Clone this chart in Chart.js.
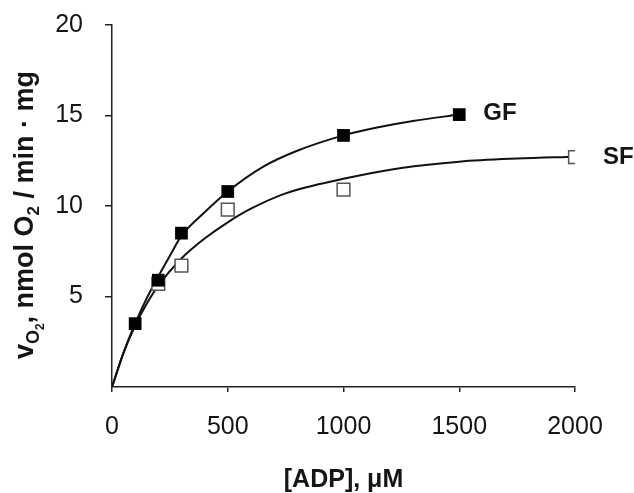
<!DOCTYPE html>
<html><head><meta charset="utf-8">
<style>html,body{margin:0;padding:0;background:#fff}#wrap{width:634px;height:493px;position:relative}</style>
<script src="https://cdn.jsdelivr.net/npm/chart.js@4.4.1/dist/chart.umd.min.js"></script>
</head><body><div id="wrap"><canvas id="c" width="634" height="493"></canvas></div>
<script>
// measured points
const gfX = [100, 200, 300, 500, 1000, 1500];
const gfY = [3.5, 5.9, 8.5, 10.8, 13.9, 15.05];
const sfX = [200, 300, 500, 1000, 2000];
const sfY = [5.7, 6.7, 9.8, 10.9, 12.7];
// fitted curves
const gfCurveX = [0, 50, 100, 150, 200, 250, 300, 400, 500, 650, 800, 1000, 1150, 1300, 1500];
const gfCurveY = [0, 1.9, 3.5, 4.9, 6.1, 7.25, 8.35, 9.65, 10.8, 12.15, 13.05, 13.9, 14.35, 14.7, 15.05];
const sfCurveX = [0, 50, 100, 150, 200, 300, 400, 500, 600, 750, 1000, 1250, 1500, 1750, 2000];
const sfCurveY = [0, 1.9, 3.4, 4.6, 5.6, 7.1, 8.2, 9.1, 9.85, 10.7, 11.5, 12.1, 12.45, 12.62, 12.72];
const xTicks = [0, 500, 1000, 1500, 2000];
const yTicks = [5, 10, 15, 20];
const seriesNames = ['GF', 'SF'];

const F = '"Liberation Sans", Arial, Helvetica, sans-serif';
const INK = '#151515';
const pts = (xs, ys) => xs.map((x, i) => ({x: x, y: ys[i]}));

const yTitlePlugin = {
  id: 'ytitle',
  afterDraw(chart) {
    const ctx = chart.ctx;
    ctx.save();
    const parts = [
      {t: 'v', s: 27, d: 0}, {t: 'O', s: 18, d: 6}, {t: '2', s: 12, d: 11},
      {t: ', nmol O', s: 27, d: 0}, {t: '2', s: 17, d: 6}, {t: ' / min \u00b7 mg', s: 27, d: 0}
    ];
    let total = 0;
    parts.forEach(p => { ctx.font = 'bold ' + p.s + 'px ' + F; p.w = ctx.measureText(p.t).width; total += p.w; });
    ctx.translate(33, 215);
    ctx.rotate(-Math.PI / 2);
    ctx.fillStyle = INK;
    ctx.textBaseline = 'alphabetic';
    ctx.textAlign = 'left';
    let x = -total / 2;
    parts.forEach(p => { ctx.font = 'bold ' + p.s + 'px ' + F; ctx.fillText(p.t, x, p.d); x += p.w; });
    ctx.restore();
  }
};

const seriesLabelPlugin = {
  id: 'serieslabels',
  afterDraw(chart) {
    const ctx = chart.ctx, xs = chart.scales.x, ys = chart.scales.y;
    ctx.save();
    ctx.font = 'bold 24px ' + F;
    ctx.fillStyle = INK;
    ctx.textAlign = 'left';
    ctx.textBaseline = 'middle';
    const gi = gfX.length - 1, si = sfX.length - 1;
    ctx.fillText(seriesNames[0], xs.getPixelForValue(gfX[gi]) + 24, ys.getPixelForValue(gfY[gi]) - 1);
    ctx.fillText(seriesNames[1], xs.getPixelForValue(sfX[si]) + 28, ys.getPixelForValue(sfY[si]));
    ctx.restore();
  }
};

new Chart(document.getElementById('c'), {
  type: 'scatter',
  data: {
    datasets: [
      {label: 'GF', data: pts(gfX, gfY), pointStyle: 'rect', pointRadius: 9, pointHoverRadius: 9,
       backgroundColor: '#000', borderColor: '#000', borderWidth: 0, order: 0},
      {label: 'SF', data: pts(sfX, sfY), pointStyle: 'rect', pointRadius: 9, pointHoverRadius: 9,
       backgroundColor: '#fff', borderColor: '#555', borderWidth: 1.5, order: 1},
      {label: 'GF fit', type: 'line', data: pts(gfCurveX, gfCurveY), showLine: true, pointRadius: 0,
       borderColor: '#111', borderWidth: 2, cubicInterpolationMode: 'monotone', fill: false, order: 2},
      {label: 'SF fit', type: 'line', data: pts(sfCurveX, sfCurveY), showLine: true, pointRadius: 0,
       borderColor: '#111', borderWidth: 2, cubicInterpolationMode: 'monotone', fill: false, order: 3}
    ]
  },
  options: {
    responsive: false,
    animation: false,
    events: [],
    layout: {padding: {top: 25, right: 59, left: 0, bottom: 0}},
    plugins: {legend: {display: false}, tooltip: {enabled: false}},
    scales: {
      x: {
        type: 'linear', min: 0, max: 2000,
        afterBuildTicks: s => { s.ticks = xTicks.map(v => ({value: v})); },
        afterFit: s => { s.height = 106; },
        ticks: {color: INK, font: {family: F, size: 25}, padding: 20, maxRotation: 0, autoSkip: false,
                callback: v => String(v)},
        grid: {display: true, drawOnChartArea: false, drawTicks: true, tickLength: 5, color: '#222', lineWidth: 1.5},
        border: {display: true, color: '#222', width: 1.5},
        title: {display: true, text: '[ADP], \u03bcM', color: INK, font: {family: F, size: 25, weight: 'bold', lineHeight: 1}, padding: {top: 0, bottom: 0}}
      },
      y: {
        type: 'linear', min: 0, max: 20,
        afterBuildTicks: s => { s.ticks = yTicks.map(v => ({value: v})); },
        afterFit: s => { s.width = 112; s.paddingTop = 0; s.paddingBottom = 0; },
        ticks: {color: INK, font: {family: F, size: 25}, padding: 22, callback: v => String(v)},
        grid: {display: true, drawOnChartArea: false, drawTicks: true, tickLength: 7, color: '#222', lineWidth: 1.5},
        border: {display: true, color: '#222', width: 1.5}
      }
    }
  },
  plugins: [yTitlePlugin, seriesLabelPlugin]
});
</script>
</body></html>
